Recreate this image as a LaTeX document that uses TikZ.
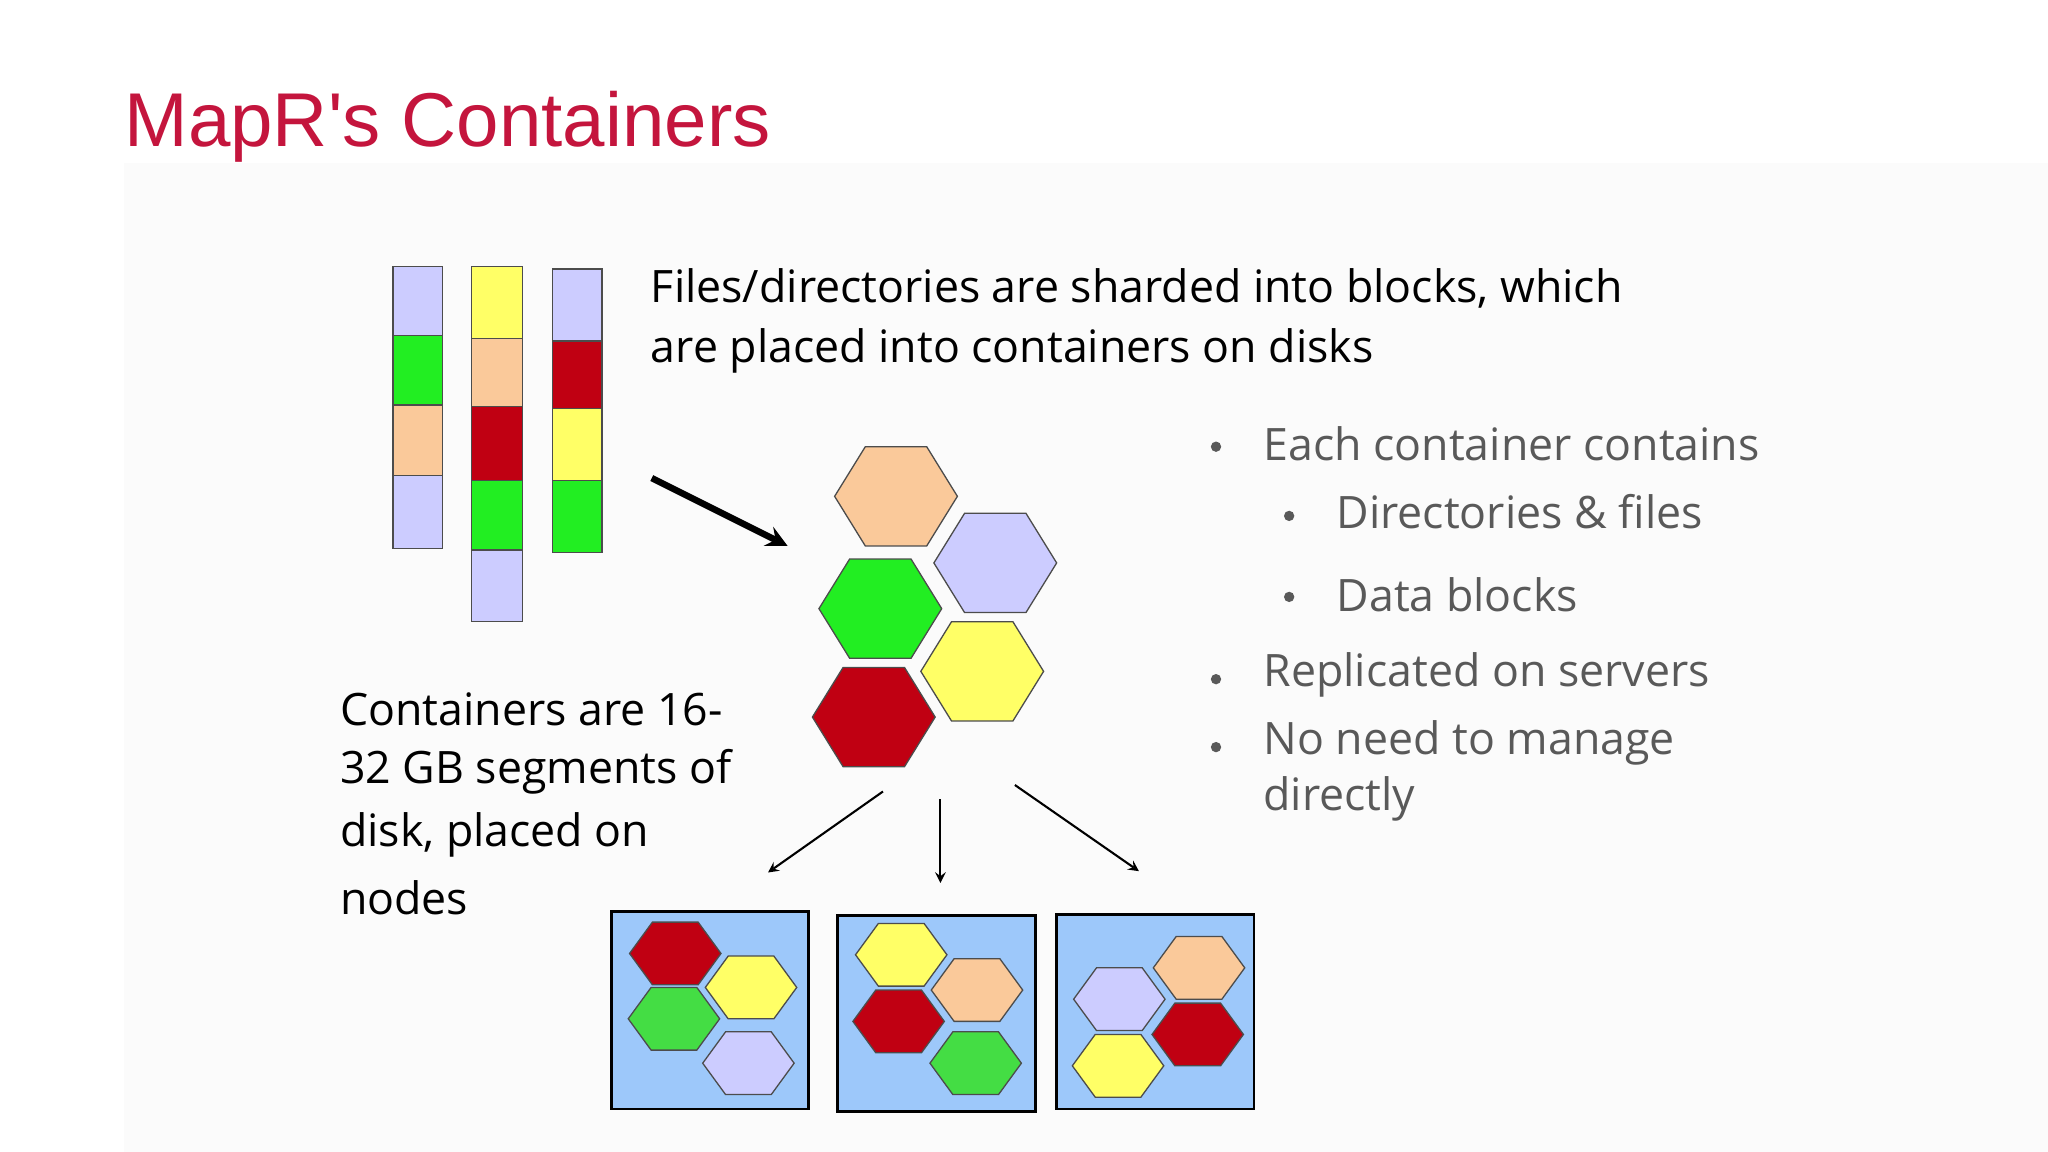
\documentclass[tikz,border=0pt]{standalone}
\usepackage{fontspec}
\setmainfont{Open Sans}
\newfontfamily\titlefont{Liberation Sans}
\definecolor{lav}{HTML}{CCCCFF}
\definecolor{grn}{HTML}{22EE22}
\definecolor{sgrn}{HTML}{44DD44}
\definecolor{pch}{HTML}{FAC99A}
\definecolor{rd}{HTML}{C00012}
\definecolor{yel}{HTML}{FFFF66}
\definecolor{boxb}{HTML}{9DC8FA}
\definecolor{ttl}{HTML}{C4153D}
\definecolor{gtx}{HTML}{595959}
\begin{document}
\begin{tikzpicture}[x=0.5pt,y=-0.5pt,
  blk/.style={draw=black!70,line width=0.5pt},
  txt/.style={anchor=west,inner sep=0pt,font=\fontsize{17.1}{24}\selectfont},
  gtxt/.style={txt,text=gtx},
  dot/.style={circle,fill=gtx,inner sep=1.4pt},
  ar/.style={-stealth,line width=0.8pt}]
\useasboundingbox (0,0) rectangle (1568,882);
\fill[white] (0,0) rectangle (1568,882);
\fill[black!1.5] (95,125) rectangle (1568,882);
\node[anchor=west,inner sep=0pt,text=ttl,font=\titlefont\fontsize{29.2}{36}\selectfont] (title) at (95,97) {MapR's Containers};
% bars
\newcommand\bk[5]{\filldraw[blk,fill=#5] (#1,#3) rectangle (#2,#4);}
\bk{301}{339}{204}{257}{lav}\bk{301}{339}{257}{310}{grn}\bk{301}{339}{310}{364}{pch}\bk{301}{339}{364}{420}{lav}
\bk{361}{400}{204}{259}{yel}\bk{361}{400}{259}{311}{pch}\bk{361}{400}{311}{368}{rd}\bk{361}{400}{368}{421}{grn}\bk{361}{400}{421}{476}{lav}
\bk{423}{461}{206}{261}{lav}\bk{423}{461}{261}{313}{rd}\bk{423}{461}{313}{368}{yel}\bk{423}{461}{368}{423}{grn}
% hex
\newcommand\hx[5]{\filldraw[blk,fill=#5] (#1-#3,#2) -- (#1-#3/2,#2-#4/2) -- (#1+#3/2,#2-#4/2) -- (#1+#3,#2) -- (#1+#3/2,#2+#4/2) -- (#1-#3/2,#2+#4/2) -- cycle;}
\hx{686}{380}{47}{76}{pch}\hx{762}{431}{47}{76}{lav}\hx{674}{466}{47}{76}{grn}\hx{752}{514}{47}{76}{yel}\hx{669}{549}{47}{76}{rd}
% arrows
\coordinate (a0) at (499,366); \coordinate (a1) at (603,418);
\draw[-stealth,line width=2.5pt] (a0) -- (a1);
\coordinate (b0) at (676,606); \coordinate (b1) at (588,668);
\coordinate (c0) at (720,612); \coordinate (c1) at (720,676);
\coordinate (d0) at (777,601); \coordinate (d1) at (872,667);
\draw[ar] (b0)--(b1); \draw[ar] (c0)--(c1); \draw[ar] (d0)--(d1);
% boxes
\filldraw[fill=boxb,draw=black,line width=1pt] (468,698) rectangle (619,849);
\filldraw[fill=boxb,draw=black,line width=1pt] (641,701) rectangle (793,851);
\filldraw[fill=boxb,draw=black,line width=1pt] (809,700) rectangle (960,849);
\hx{517}{730}{35}{48}{rd}\hx{575}{756}{35}{48}{yel}\hx{516}{780}{35}{48}{sgrn}\hx{573}{814}{35}{48}{lav}
\hx{690}{731}{35}{48}{yel}\hx{748}{758}{35}{48}{pch}\hx{688}{782}{35}{48}{rd}\hx{747}{814}{35}{48}{sgrn}
\hx{918}{741}{35}{48}{pch}\hx{857}{765}{35}{48}{lav}\hx{917}{792}{35}{48}{rd}\hx{856}{816}{35}{48}{yel}
% texts
\node[txt] (t1) at (498,221) {Files/directories are sharded into blocks, which};
\node[txt] (t2) at (498,269) {are placed into containers on disks};
\node[txt] (l1) at (260,543) {Containers are 16-};
\node[txt] (l2) at (260,591) {32 GB segments of};
\node[txt] (l3) at (260,639) {disk, placed on};
\node[txt] (l4) at (260,687) {nodes};
\node[dot] (d1) at (931,342) {}; \node[gtxt] (e1) at (967,340) {Each container contains};
\node[dot] (d2) at (987,395) {}; \node[gtxt] (e2) at (1023,392) {Directories \& files};
\node[dot] (d3) at (987,457) {}; \node[gtxt] (e3) at (1023,455) {Data blocks};
\node[dot] (d4) at (931,520) {}; \node[gtxt] (e4) at (967,517) {Replicated on servers};
\node[dot] (d5) at (931,572) {}; \node[gtxt] (e5) at (967,569) {No need to manage};
\node[gtxt] (e6) at (967,612) {directly};
\end{tikzpicture}
\end{document}
